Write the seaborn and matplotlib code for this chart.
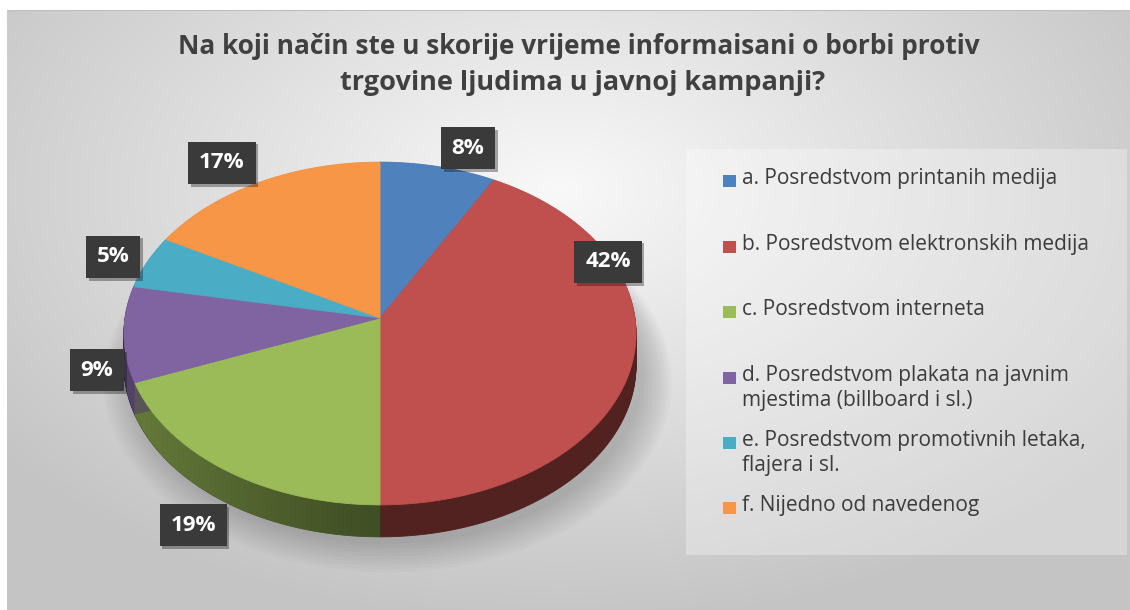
import numpy as np
import matplotlib
matplotlib.use("Agg")
import matplotlib.pyplot as plt
import seaborn as sns
from matplotlib.transforms import Transform, Affine2D
from matplotlib.path import Path
from matplotlib.patches import Rectangle
import matplotlib.patheffects as pe

# ---------------- data ----------------
categories = [
    "a. Posredstvom printanih medija",
    "b. Posredstvom elektronskih medija",
    "c. Posredstvom interneta",
    "d. Posredstvom plakata na javnim\nmjestima (billboard i sl.)",
    "e. Posredstvom promotivnih letaka,\nflajera i sl.",
    "f. Nijedno od navedenog",
]
values = [8, 42, 19, 9, 5, 17]
pct_labels = [f"{v}%" for v in values]
title_lines = [
    "Na koji način ste u skorije vrijeme informaisani o borbi protiv",
    "trgovine ljudima u javnoj kampanji?",
]

# ---------------- style ----------------
colors = ["#4F81BD", "#C0504D", "#9BBB59", "#8064A2", "#4BACC6", "#F79646"]
side_colors = [tuple(np.array(matplotlib.colors.to_rgb(c)) * 0.42) for c in colors]

sns.set_theme(style="white")
plt.rcParams["font.family"] = ["Open Sans", "DejaVu Sans"]

W, H = 1130, 610
fig = plt.figure(figsize=(W / 100, H / 100), dpi=100)
fig.patch.set_facecolor("white")


def fx(x):
    return x / W


def fy(y):
    return 1 - y / H


# ---------------- background gradient ----------------
bg = fig.add_axes([fx(7), 0, 1 - fx(7), fy(10)])
gx, gy = np.meshgrid(np.linspace(7, W, 300), np.linspace(10, H, 200))
r = np.sqrt(((gx - 560) / 760) ** 2 + ((gy - 190) / 470) ** 2)
g = np.clip(0.975 - 0.22 * r, 0.77, 0.975)
bg.imshow(np.dstack([g, g, g]), aspect="auto", extent=(0, 1, 1, 0), interpolation="bicubic")
bg.set_xlim(0, 1)
bg.set_ylim(1, 0)
bg.axis("off")
fig.add_artist(Rectangle((fx(7), fy(11)), 1 - fx(7), 1 / H, transform=fig.transFigure,
                         color="#bdbdbd", lw=0))

# legend box
fig.add_artist(Rectangle((fx(686), fy(555)), fx(1127 - 686), (555 - 149) / H,
                         transform=fig.transFigure, facecolor="white", alpha=0.3, lw=0))


# ---------------- perspective transform ----------------
class Persp(Transform):
    input_dims = 2
    output_dims = 2
    is_separable = False
    has_inverse = False

    def __init__(self, k):
        super().__init__()
        self.k = k

    def transform_non_affine(self, v):
        v = np.asarray(v, dtype=float)
        d = 1 + self.k * v[:, 1]
        return np.column_stack([v[:, 0] / d, v[:, 1] / d])

    def transform_path_non_affine(self, path):
        pts = []
        for seg, code in path.iter_bezier():
            pts.append(seg(np.linspace(0, 1, 24)))
        pts = np.vstack(pts)
        pts = np.vstack([pts, pts[:1]])
        codes = np.full(len(pts), Path.LINETO)
        codes[0] = Path.MOVETO
        codes[-1] = Path.CLOSEPOLY
        return Path(self.transform_non_affine(pts), codes)


persp = Persp(0.0904)

# pie axes: origin at pixel (380, 318); 255 px per unit in x, 170 px per unit in y
ax = fig.add_axes([0, 0, 1, 1])
ax.patch.set_alpha(0)

cx, cy, sx, sy = 380, 318, 255, 170
xlim = (-cx / sx, (W - cx) / sx)
ylim = (-(H - cy) / sy, cy / sy)

depth = 32 / sy


def draw_pie(cols, dx=0.0, dy=0.0, radius=1.0, alpha=1.0, z=2, vals=values):
    wedges, _ = ax.pie(vals, startangle=90, counterclock=False, colors=cols, radius=radius,
                       wedgeprops=dict(linewidth=0.6, edgecolor=None, alpha=alpha))
    tr = persp + Affine2D().translate(dx, dy) + ax.transData
    for w, c in zip(wedges, cols):
        w.set_transform(tr)
        w.set_edgecolor(c)
        w.set_zorder(z)
        if alpha < 1:
            w.set_linewidth(0)
    return wedges


# soft shadow
for i in range(10):
    draw_pie(["#000000"], dx=0.03, dy=-depth - 0.04 - 0.004 * i, radius=1.0 + 0.012 * i,
             alpha=0.02, z=1, vals=[1])

# side walls (stacked layers)
for dz in np.linspace(depth, 0.004, 36):
    draw_pie(side_colors, dy=-dz, z=2)

# light shading of the side wall, stronger towards the left (tinted per slice)
clip_ws = draw_pie(colors, dy=-depth, z=2.5)
sxg = np.linspace(-1.1, 1.1, 200)
for cw, c in zip(clip_ws, colors):
    cw.set_visible(False)
    shade = np.zeros((2, 200, 4))
    shade[..., :3] = matplotlib.colors.to_rgb(c)
    shade[..., 3] = 0.42 * np.clip(-sxg, 0, 1) ** 1.2
    im = ax.imshow(shade, extent=(-1.1, 1.1, -1.4, 0.2), aspect="auto", zorder=2.5,
                   interpolation="bilinear")
    im.set_clip_path(cw)

# top surface
top = draw_pie(colors, z=3)

ax.set_aspect("auto")
ax.set_xlim(*xlim)
ax.set_ylim(*ylim)
ax.set_position([0, 0, 1, 1])
ax.axis("off")

# ---------------- data labels ----------------
label_xy = [(0.345, 1.0), (0.894, 0.33), (-0.733, -1.218), (-1.11, -0.306),
            (-1.047, 0.359), (-0.62, 0.912)]
label_texts = []
for (lx, ly), s in zip(label_xy, pct_labels):
    t = ax.text(lx, ly, s, ha="center", va="center", color="white", fontweight="bold",
                fontsize=14, zorder=6,
                bbox=dict(boxstyle="square,pad=0.48", facecolor="#3a3a3a", edgecolor="none"))
    label_texts.append(t)

# ---------------- title ----------------
t1 = fig.text(fx(579), fy(46.7), title_lines[0], ha="center", va="center",
              fontsize=18, fontweight="bold", color="#404040")
t2 = fig.text(fx(583), fy(83), title_lines[1], ha="center", va="center",
              fontsize=18, fontweight="bold", color="#404040")

# ---------------- legend (manual) ----------------
leg_rows = [180.7, 246.7, 312, 378, 443, 508]
leg_texts = []
for lab, c, yrow in zip(categories, colors, leg_rows):
    fig.add_artist(Rectangle((fx(723), fy(yrow + 6)), fx(13), 12 / H,
                             transform=fig.transFigure, color=c, lw=0))
    t = fig.text(fx(742), fy(yrow - 13), lab, ha="left", va="top", fontsize=13,
                 color="#3c3c3c", linespacing=1.25)
    leg_texts.append(t)

# ---------------- fit font sizes to measured widths ----------------
fig.canvas.draw()
rend = fig.canvas.get_renderer()


def fit(t, target):
    w = t.get_window_extent(rend).width
    t.set_fontsize(t.get_fontsize() * target / w)


fit(t1, 802)
fit(t2, 487)
for t in leg_texts:
    t.set_text(t.get_text().split("\n")[0])
fig.canvas.draw()
fit(leg_texts[0], 316)
fs = leg_texts[0].get_fontsize()
for t, lab in zip(leg_texts, categories):
    t.set_fontsize(fs)
    t.set_text(lab)
fit(label_texts[1], 46)
for t in label_texts:
    t.set_fontsize(label_texts[1].get_fontsize())
fig.canvas.draw()
for t in label_texts:
    t.get_bbox_patch().set_path_effects([pe.SimplePatchShadow(offset=(2, -2), alpha=0.35),
                                         pe.Normal()])

fig.savefig("out.png", dpi=100, facecolor="white")
